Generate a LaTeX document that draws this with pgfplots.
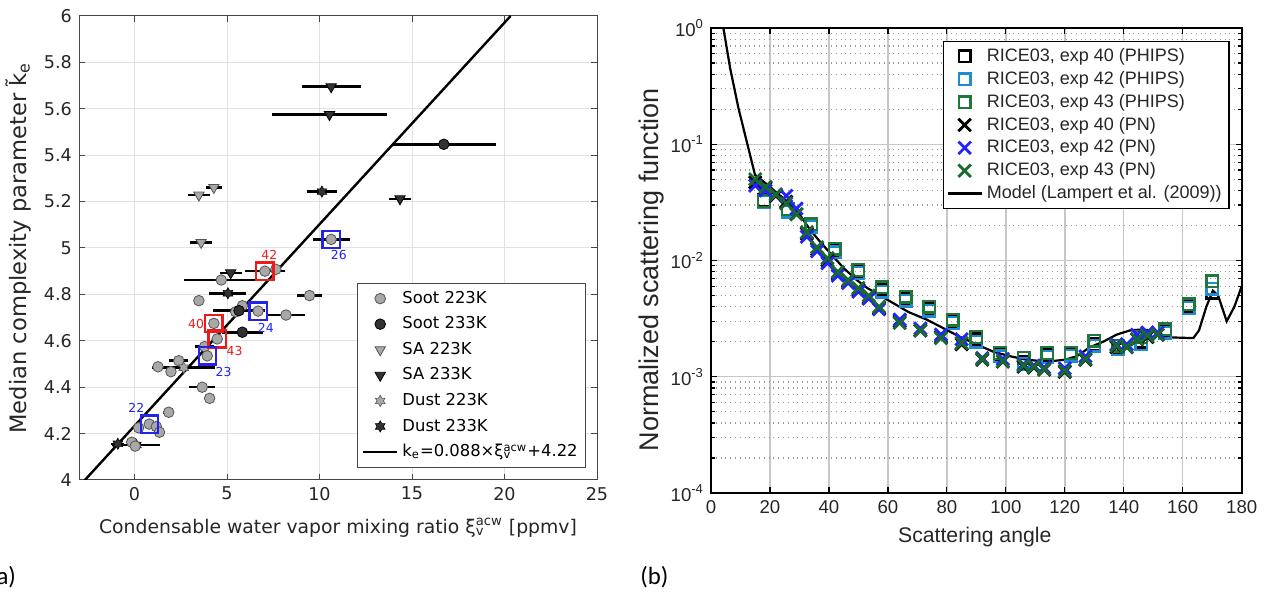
\documentclass[border=0pt]{standalone}
\usepackage{fontspec}
\setmainfont{DejaVu Sans}
\newfontfamily\fb{Liberation Sans}
\newfontfamily\fc{Carlito}
\usepackage{pgfplots}
\usepackage{pgfplotstable}
\pgfplotsset{compat=1.18}
\usetikzlibrary{plotmarks}

\definecolor{sootL}{RGB}{168,168,168}
\definecolor{sootD}{RGB}{50,50,50}
\definecolor{edgeL}{RGB}{85,85,85}
\definecolor{axgray}{RGB}{70,70,70}
\definecolor{gridgray}{RGB}{226,226,226}
\definecolor{phblue}{RGB}{30,140,210}
\definecolor{phgreen}{RGB}{30,120,60}
\definecolor{pnblue}{RGB}{35,35,255}
\definecolor{pngreen}{RGB}{25,105,50}
\definecolor{mred}{RGB}{240,25,25}
\definecolor{mblue}{RGB}{35,35,235}

\pgfdeclareplotmark{hexstar}{%
  \pgfpathmoveto{\pgfpointpolar{90}{\pgfplotmarksize}}%
  \pgfpathlineto{\pgfpointpolar{120}{0.577\pgfplotmarksize}}%
  \pgfpathlineto{\pgfpointpolar{150}{\pgfplotmarksize}}%
  \pgfpathlineto{\pgfpointpolar{180}{0.577\pgfplotmarksize}}%
  \pgfpathlineto{\pgfpointpolar{210}{\pgfplotmarksize}}%
  \pgfpathlineto{\pgfpointpolar{240}{0.577\pgfplotmarksize}}%
  \pgfpathlineto{\pgfpointpolar{270}{\pgfplotmarksize}}%
  \pgfpathlineto{\pgfpointpolar{300}{0.577\pgfplotmarksize}}%
  \pgfpathlineto{\pgfpointpolar{330}{\pgfplotmarksize}}%
  \pgfpathlineto{\pgfpointpolar{0}{0.577\pgfplotmarksize}}%
  \pgfpathlineto{\pgfpointpolar{30}{\pgfplotmarksize}}%
  \pgfpathlineto{\pgfpointpolar{60}{0.577\pgfplotmarksize}}%
  \pgfpathclose
  \pgfusepathqfillstroke}

\pgfplotsset{eb/.style={error bars/.cd, x dir=both, x explicit, error mark=none,
  error bar style={line width=1.3pt, black}}}

% Panel (a) data: x  y  x-error
\pgfplotstableread{
x y ex
9.46 4.795 0.7
3.48 4.773 0
5.83 4.751 0
5.47 4.725 0
6.68 4.728 0
8.19 4.711 1.05
4.29 4.675 0
4.47 4.608 0
3.79 4.575 0.5
3.93 4.535 0
2.39 4.514 0.5
1.27 4.488 0
1.97 4.467 0
3.66 4.400 0.7
4.06 4.352 0
1.85 4.292 0.3
0.80 4.241 0
0.22 4.225 0
1.18 4.230 0
1.35 4.206 0
-0.15 4.163 0
0.04 4.146 0
10.63 5.037 1.0
7.05 4.900 1.1
7.64 4.908 0
4.69 4.862 2.0
}\sootA
\pgfplotstableread{
x y ex
16.72 5.447 2.8
5.65 4.730 1.4
5.83 4.637 1.1
}\sootB
\pgfplotstableread{
x y ex
3.48 5.228 0.6
4.29 5.261 0.45
3.60 5.024 0.6
}\saA
\pgfplotstableread{
x y ex
10.63 5.695 1.6
10.54 5.575 3.1
14.35 5.212 0.6
5.20 4.893 0.6
}\saB
\pgfplotstableread{
x y ex
2.66 4.484 1.7
}\dustA
\pgfplotstableread{
x y ex
10.13 5.243 0.8
5.05 4.805 1.0
}\dustB
\pgfplotstableread{
x y ex
-0.90 4.156 0.35
0.10 4.151 1.30
}\dustBlow

% Panel (b) data
\pgfplotstableread{
x k b g
18 0.0330 0.0318 0.0325
26 0.0270 0.0262 0.0275
34 0.0198 0.0195 0.0205
42 0.0120 0.0118 0.0126
50 0.0080 0.0078 0.0083
58 0.0056 0.0054 0.0059
66 0.0047 0.0045 0.0049
74 0.0038 0.0037 0.0040
82 0.0030 0.0029 0.0031
90 0.0021 0.0020 0.0022
98 0.00155 0.0015 0.0016
106 0.00135 0.0013 0.00145
114 0.00155 0.00148 0.0016
122 0.00155 0.00152 0.0016
130 0.0019 0.00185 0.00205
138 0.00175 0.00172 0.00185
146 0.0020 0.0019 0.0022
154 0.00245 0.0024 0.00255
162 0.0040 0.0039 0.0042
170 0.0053 0.0057 0.0066
}\phips
\pgfplotstableread{
x k b g
15 0.047 0.044 0.050
18.5 0.042 0.040 0.043
22 0.036 0.037 0.037
25.5 0.032 0.036 0.031
29 0.025 0.028 0.025
32.5 0.017 0.016 0.0175
36 0.0125 0.012 0.013
39.5 0.0100 0.0095 0.0105
43 0.0077 0.0074 0.0080
46.5 0.0066 0.0064 0.0068
50 0.0056 0.0054 0.0058
53.5 0.0048 0.0047 0.0050
57 0.0039 0.0038 0.0040
64 0.0030 0.0031 0.0029
71 0.0025 0.0026 0.0025
78 0.0022 0.0023 0.00215
85 0.0019 0.0021 0.00195
92 0.0014 0.00145 0.00142
99 0.00135 0.00142 0.00136
106 0.00122 0.00128 0.00125
109.5 0.0012 0.00125 0.00122
113 0.00115 0.0012 0.00116
120 0.0011 0.00118 0.00112
127 0.0014 0.0015 0.00142
137.5 0.0018 0.0019 0.00185
141 0.0018 0.0019 0.0018
144.5 0.0021 0.0023 0.0021
148 0.0022 0.0024 0.00225
151.5 0.0023 0.0024 0.0023
}\pn
\pgfplotstableread{
x y
4.2 1.0
6.5 0.45
9.3 0.205
12.7 0.092
14.9 0.0547
20 0.043
26.2 0.0312
30 0.025
33.6 0.0184
37.5 0.014
41.5 0.0108
45 0.0086
49.4 0.0068
53 0.0058
57.3 0.0050
61.8 0.0043
67 0.0036
73.2 0.0031
79 0.0026
84.5 0.0022
90 0.0019
95.8 0.00164
101 0.00151
107.1 0.0014
114 0.00135
120 0.0014
124 0.0015
128.6 0.0018
133 0.0020
137.5 0.0023
142 0.0025
146 0.00255
150 0.0025
153 0.0023
156 0.00218
163.6 0.00215
165.5 0.0025
168 0.0040
170.2 0.0055
172 0.0050
174.9 0.0030
177.5 0.0040
180 0.0060
}\model

\begin{document}
\begin{tikzpicture}
\useasboundingbox (0,0) rectangle (634pt,296pt);

% ---------------- Panel (a) ----------------
\begin{axis}[
  at={(39.5pt,56pt)}, anchor=south west, scale only axis,
  width=259pt, height=232pt,
  xmin=-3, xmax=25, ymin=4, ymax=6,
  xtick={0,5,10,15,20,25},
  ytick={4,4.2,4.4,4.6,4.8,5,5.2,5.4,5.6,5.8,6},
  yticklabels={4,4.2,4.4,4.6,4.8,5,5.2,5.4,5.6,5.8,6},
  /pgf/number format/assume math mode=true,
  tick align=inside,
  major tick length=3pt,
  axis line style={axgray, line width=0.5pt},
  tick style={axgray, line width=0.5pt},
  grid=major, grid style={gridgray, line width=0.5pt},
  ticklabel style={font=\fontsize{8.8}{10}\selectfont, text=black!85},
  xlabel={Condensable water vapor mixing ratio ξ\rlap{\textsubscript{v}}\textsuperscript{acw} [ppmv]},
  ylabel={Median complexity parameter \~{k}\textsubscript{e}},
  xlabel style={font=\fontsize{9.4}{11}\selectfont, text=black!85, at={(axis description cs:0.5,-0.103)}, anchor=center},
  ylabel style={font=\fontsize{11.3}{13}\selectfont, text=black!85, at={(axis description cs:-0.117,0.5)}, anchor=center},
  legend style={at={(0.979,0.025)}, anchor=south east, draw=axgray, line width=0.5pt,
    font=\fontsize{8.2}{9.5}\selectfont, row sep=1.2pt, inner sep=2pt,
    /tikz/every even column/.append style={column sep=2pt}},
  legend cell align=left,
  clip=true,
]
% hidden low cluster (drawn first, behind grey circles)
\addplot[only marks, mark=hexstar, mark size=2.8pt, mark options={fill=sootD, draw=black, line width=0.3pt}, forget plot, eb] table[x=x,y=y,x error=ex] {\dustBlow};

\addplot[only marks, mark=*, mark size=2.65pt, mark options={fill=sootL, draw=edgeL, line width=0.4pt}, eb] table[x=x,y=y,x error=ex] {\sootA};
\addlegendentry{Soot 223K}
\addplot[only marks, mark=*, mark size=2.65pt, mark options={fill=sootD, draw=black, line width=0.4pt}, eb] table[x=x,y=y,x error=ex] {\sootB};
\addlegendentry{Soot 233K}
\addplot[only marks, mark=triangle*, mark size=3pt, mark options={rotate=180, fill=sootL, draw=edgeL, line width=0.4pt}, eb] table[x=x,y=y,x error=ex] {\saA};
\addlegendentry{SA 223K}
\addplot[only marks, mark=triangle*, mark size=3pt, mark options={rotate=180, fill=sootD, draw=black, line width=0.4pt}, eb] table[x=x,y=y,x error=ex] {\saB};
\addlegendentry{SA 233K}
\addplot[only marks, mark=hexstar, mark size=2.8pt, mark options={fill=sootL, draw=edgeL, line width=0.3pt}, eb] table[x=x,y=y,x error=ex] {\dustA};
\addlegendentry{Dust 223K}
\addplot[only marks, mark=hexstar, mark size=2.8pt, mark options={fill=sootD, draw=black, line width=0.3pt}, eb] table[x=x,y=y,x error=ex] {\dustB};
\addlegendentry{Dust 233K}
\addplot[black, line width=1.2pt, no marks] coordinates {(-2.68,4) (20.33,6)};
\addlegendentry{k\textsubscript{e}=0.088×ξ\rlap{\textsubscript{v}}\textsuperscript{acw}+4.22}

% highlighted experiments
\addplot[only marks, mark=square, mark size=4.3pt, mred, line width=1.1pt, forget plot] coordinates {(7.05,4.90) (4.29,4.675) (4.47,4.608)};
\addplot[only marks, mark=square, mark size=4.3pt, mblue, line width=1.1pt, forget plot] coordinates {(10.63,5.037) (6.68,4.728) (3.93,4.535) (0.80,4.241)};
\begin{scope}[font=\fontsize{6.2}{7}\selectfont]
\node[mred] at ([xshift=2.2pt,yshift=8pt]axis cs:7.05,4.90) {42};
\node[mred] at ([xshift=-8.9pt,yshift=-0.5pt]axis cs:4.29,4.675) {40};
\node[mred] at ([xshift=8.7pt,yshift=-6pt]axis cs:4.47,4.608) {43};
\node[mblue] at ([xshift=3.8pt,yshift=-8pt]axis cs:10.63,5.037) {26};
\node[mblue] at ([xshift=3.9pt,yshift=-8.3pt]axis cs:6.68,4.728) {24};
\node[mblue] at ([xshift=8.2pt,yshift=-8.2pt]axis cs:3.93,4.535) {23};
\node[mblue] at ([xshift=-6.5pt,yshift=8.2pt]axis cs:0.80,4.241) {22};
\end{scope}
\end{axis}

% ---------------- Panel (b) ----------------
\begin{axis}[
  at={(355.5pt,49.5pt)}, anchor=south west, scale only axis,
  width=265.35pt, height=232.5pt,
  ymode=log, xmin=0, xmax=180, ymin=1e-4, ymax=1,
  xtick={0,20,...,180},
  ytick={1e-4,1e-3,1e-2,1e-1,1},
  yticklabels={10\textsuperscript{-4},10\textsuperscript{-3},10\textsuperscript{-2},10\textsuperscript{-1},10\textsuperscript{0}},
  /pgf/number format/assume math mode=true,
  tick align=inside,
  major tick length=3pt, minor tick length=1.8pt,
  axis line style={black, line width=0.9pt},
  tick style={black, line width=0.6pt},
  xmajorgrids=true, ymajorgrids=true, yminorgrids=true, xminorgrids=false,
  major grid style={black!22, line width=0.7pt},
  minor grid style={black!40, dotted, line width=0.6pt},
  ticklabel style={font=\fb\fontsize{9.3}{11}\selectfont, text=black!85},
  xlabel={Scattering angle},
  ylabel={Normalized scattering function},
  xlabel style={font=\fb\fontsize{10.6}{12}\selectfont, text=black!85, at={(axis description cs:0.497,-0.095)}, anchor=center},
  ylabel style={font=\fb\fontsize{13.5}{15}\selectfont, text=black!85, at={(axis description cs:-0.113,0.48)}, anchor=center},
  legend style={at={(0.977,0.973)}, anchor=north east, draw=black, line width=0.9pt,
    font=\fb\fontsize{9}{10}\selectfont, row sep=-0.6pt, inner sep=1.5pt, text=black!85},
  legend cell align=left,
]
\addplot[only marks, mark=square, mark size=2.9pt, black, line width=1.2pt] table[x=x,y=k] {\phips};
\addlegendentry{RICE03, exp 40 (PHIPS)}
\addplot[only marks, mark=square, mark size=2.9pt, phblue, line width=1.2pt] table[x=x,y=b] {\phips};
\addlegendentry{RICE03, exp 42 (PHIPS)}
\addplot[only marks, mark=square, mark size=2.9pt, phgreen, line width=1.2pt] table[x=x,y=g] {\phips};
\addlegendentry{RICE03, exp 43 (PHIPS)}
\addplot[only marks, mark=x, mark size=4.4pt, black, line width=1.4pt] table[x=x,y=k] {\pn};
\addlegendentry{RICE03, exp 40 (PN)}
\addplot[only marks, mark=x, mark size=4.4pt, pnblue, line width=1.4pt] table[x=x,y=b] {\pn};
\addlegendentry{RICE03, exp 42 (PN)}
\addplot[only marks, mark=x, mark size=4.4pt, pngreen, line width=1.4pt] table[x=x,y=g] {\pn};
\addlegendentry{RICE03, exp 43 (PN)}
\addplot[black, line width=1.1pt, no marks] table[x=x,y=y] {\model};
\addlegendentry{Model (Lampert et al. (2009))}
\end{axis}

\node[font=\fc\fontsize{12.4}{14}\selectfont, anchor=base east, inner sep=0pt] at (8.2pt,3.5pt) {(a)};
\node[font=\fc\fontsize{12.4}{14}\selectfont, anchor=base west, inner sep=0pt] at (320pt,3.5pt) {(b)};
\end{tikzpicture}
\end{document}
